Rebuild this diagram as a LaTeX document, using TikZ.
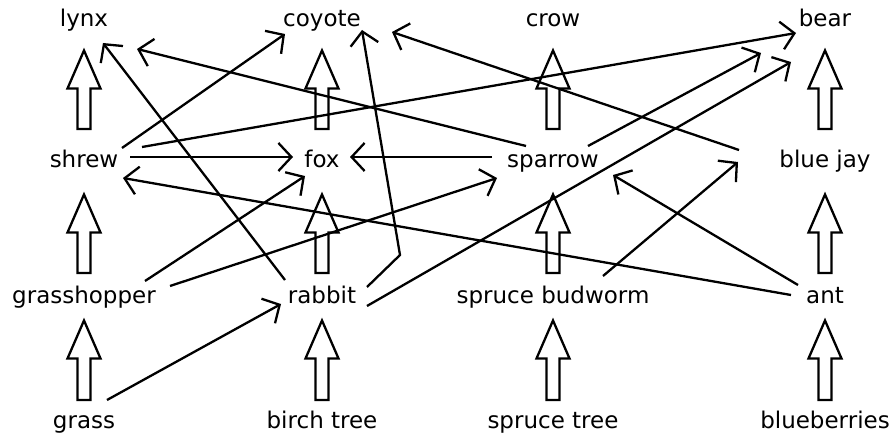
\documentclass[tikz,border=0pt]{standalone}
\usepackage{fontspec}
\setmainfont{DejaVu Sans}
\usetikzlibrary{arrows.meta,calc}
\tikzset{
  lbl/.style={anchor=base, inner sep=0pt, font=\fontsize{23}{27}\selectfont},
  link/.style={line width=2.3pt, -{Straight Barb[length=13pt,width=28pt,line join=miter]}},
  blk/.style={draw, line width=2.3pt, line join=miter}
}
% #1 lower node, #2 upper node, #3 tip offset below upper base, #4 bottom offset above lower base
\newcommand\blockup[4]{%
  \path ([shift={(0,#3)}]#2.base) coordinate (bt) ([shift={(0,-#4)}]#1.base) coordinate (bb);
  \draw[blk] (bt) -- ($(bt)+(16.5,38)$) -- ($(bt)+(6.5,38)$) -- ($(bb)+(6.5,0)$)
    -- ($(bb)+(-6.5,0)$) -- ($(bt)+(-6.5,38)$) -- ($(bt)+(-16.5,38)$) -- cycle;
}
\begin{document}
\begin{tikzpicture}[x=1pt,y=-1pt]
\useasboundingbox (0,0) rectangle (894,438);
% nodes
\node[lbl] (lynx) at (84,27) {lynx};
\node[lbl] (coyote) at (322,27) {coyote};
\node[lbl] (crow) at (553,27) {crow};
\node[lbl] (bear) at (825,27) {bear};
\node[lbl] (shrew) at (84,168) {shrew};
\node[lbl] (fox) at (322,168) {fox};
\node[lbl] (sparrow) at (553,168) {sparrow};
\node[lbl] (bluejay) at (825,168) {blue jay};
\node[lbl] (grasshopper) at (84,304) {grasshopper};
\node[lbl] (rabbit) at (322,304) {rabbit};
\node[lbl] (budworm) at (553,304) {spruce budworm};
\node[lbl] (ant) at (825,304) {ant};
\node[lbl] (grass) at (84,428) {grass};
\node[lbl] (birch) at (322,428) {birch tree};
\node[lbl] (sprucetree) at (553,428) {spruce tree};
\node[lbl] (blueberries) at (825,428) {blueberries};
% block arrows
\blockup{shrew}{lynx}{23.5}{39}
\blockup{fox}{coyote}{23.5}{39}
\blockup{sparrow}{crow}{23.5}{39}
\blockup{bluejay}{bear}{23.5}{39}
\blockup{grasshopper}{shrew}{26.5}{31}
\blockup{rabbit}{fox}{26.5}{31}
\blockup{budworm}{sparrow}{26.5}{31}
\blockup{ant}{bluejay}{26.5}{31}
\blockup{grass}{grasshopper}{16.5}{28}
\blockup{birch}{rabbit}{16.5}{28}
\blockup{sprucetree}{budworm}{16.5}{28}
\blockup{blueberries}{ant}{16.5}{28}
% thin arrows
\draw[link] ([shift={(46,-11)}]shrew.base) -- ([shift={(-29,-11)}]fox.base);
\draw[link] ([shift={(-61,-11)}]sparrow.base) -- ([shift={(28,-11)}]fox.base);
\draw[link] ([shift={(38,-20)}]shrew.base) -- ([shift={(-37,7)}]coyote.base);
\draw[link] ([shift={(58,-21)}]shrew.base) -- ([shift={(-29,6)}]bear.base);
\draw[link] ([shift={(-37,-24)}]rabbit.base) -- ([shift={(19,16)}]lynx.base);
\draw[link] ([shift={(-27,-22)}]sparrow.base) -- ([shift={(53,22)}]lynx.base);
\draw[link] ([shift={(-86,-18)}]bluejay.base) -- ([shift={(70,5)}]coyote.base);
\coordinate (bend) at (400,255);
\draw[link] ([shift={(45,-17)}]rabbit.base) -- (bend) -- ([shift={(40,3)}]coyote.base);
\draw[link] ([shift={(61,-23)}]grasshopper.base) -- ([shift={(-17,8)}]fox.base);
\draw[link] ([shift={(86,-18)}]grasshopper.base) -- ([shift={(-56,10)}]sparrow.base);
\draw[link] ([shift={(-34,-9)}]ant.base) -- ([shift={(39,10)}]shrew.base);
\draw[link] ([shift={(23,-28)}]grass.base) -- ([shift={(-41,0)}]rabbit.base);
\draw[link] ([shift={(45,2)}]rabbit.base) -- ([shift={(-34,35)}]bear.base);
\draw[link] ([shift={(35,-22)}]sparrow.base) -- ([shift={(-64,26)}]bear.base);
\draw[link] ([shift={(50,-28)}]budworm.base) -- ([shift={(-87,-6)}]bluejay.base);
\draw[link] ([shift={(-27,-19)}]ant.base) -- ([shift={(60,7)}]sparrow.base);
\end{tikzpicture}
\end{document}
